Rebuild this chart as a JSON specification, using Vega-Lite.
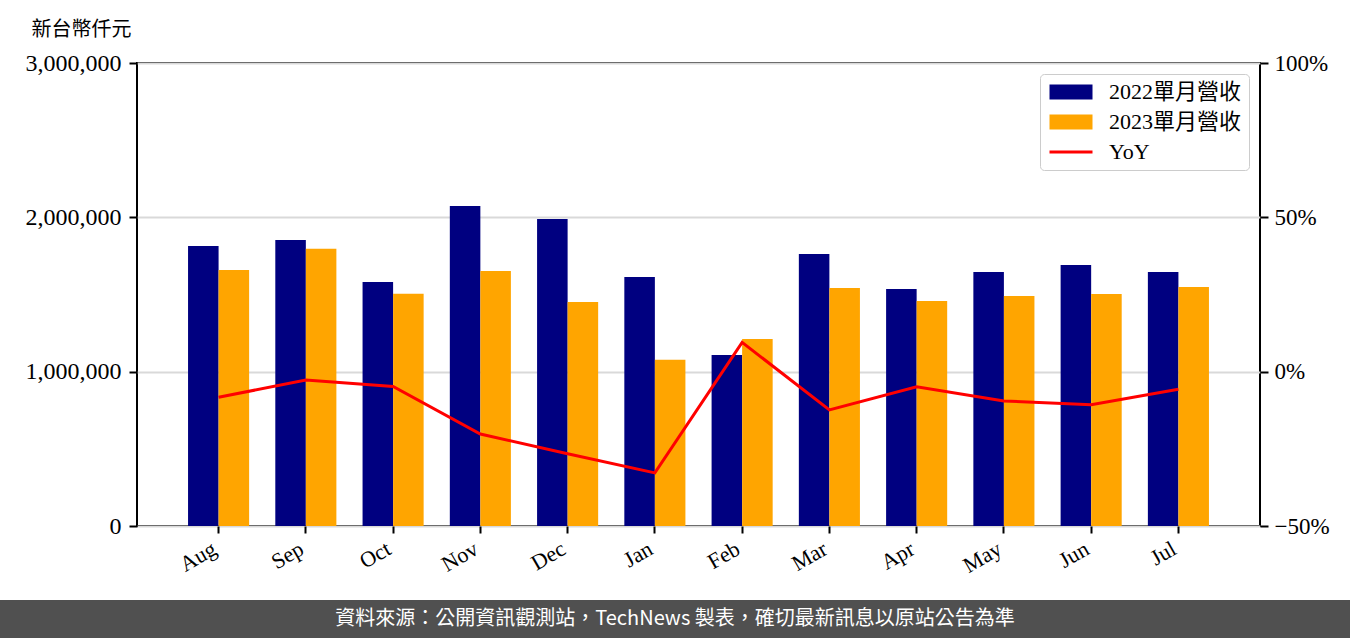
{
  "$schema": "https://vega.github.io/schema/vega-lite/v6.json",
  "background": "white",
  "padding": {"left": 0, "top": 18, "right": 0, "bottom": 0},
  "spacing": 22,
  "resolve": {"scale": {"color": "independent"}, "legend": {"color": "independent"}},
  "config": {
    "view": {"stroke": null},
    "font": "Liberation Serif"
  },
  "datasets": {
    "revenue": [
      {"month": "Aug", "series": "2022單月營收", "revenue": 1814000},
      {"month": "Aug", "series": "2023單月營收", "revenue": 1659000},
      {"month": "Sep", "series": "2022單月營收", "revenue": 1853000},
      {"month": "Sep", "series": "2023單月營收", "revenue": 1797000},
      {"month": "Oct", "series": "2022單月營收", "revenue": 1581000},
      {"month": "Oct", "series": "2023單月營收", "revenue": 1505000},
      {"month": "Nov", "series": "2022單月營收", "revenue": 2073000},
      {"month": "Nov", "series": "2023單月營收", "revenue": 1652000},
      {"month": "Dec", "series": "2022單月營收", "revenue": 1989000},
      {"month": "Dec", "series": "2023單月營收", "revenue": 1451000},
      {"month": "Jan", "series": "2022單月營收", "revenue": 1613000},
      {"month": "Jan", "series": "2023單月營收", "revenue": 1078000},
      {"month": "Feb", "series": "2022單月營收", "revenue": 1108000},
      {"month": "Feb", "series": "2023單月營收", "revenue": 1212000},
      {"month": "Mar", "series": "2022單月營收", "revenue": 1762000},
      {"month": "Mar", "series": "2023單月營收", "revenue": 1542000},
      {"month": "Apr", "series": "2022單月營收", "revenue": 1536000},
      {"month": "Apr", "series": "2023單月營收", "revenue": 1458000},
      {"month": "May", "series": "2022單月營收", "revenue": 1646000},
      {"month": "May", "series": "2023單月營收", "revenue": 1490000},
      {"month": "Jun", "series": "2022單月營收", "revenue": 1691000},
      {"month": "Jun", "series": "2023單月營收", "revenue": 1503000},
      {"month": "Jul", "series": "2022單月營收", "revenue": 1646000},
      {"month": "Jul", "series": "2023單月營收", "revenue": 1549000}
    ],
    "yoy": [
      {"month": "Aug", "yoy": -0.083},
      {"month": "Sep", "yoy": -0.027},
      {"month": "Oct", "yoy": -0.048},
      {"month": "Nov", "yoy": -0.202},
      {"month": "Dec", "yoy": -0.266},
      {"month": "Jan", "yoy": -0.328},
      {"month": "Feb", "yoy": 0.095},
      {"month": "Mar", "yoy": -0.124},
      {"month": "Apr", "yoy": -0.049},
      {"month": "May", "yoy": -0.095},
      {"month": "Jun", "yoy": -0.107},
      {"month": "Jul", "yoy": -0.057}
    ],
    "note": [
      {"text": "資料來源：公開資訊觀測站，TechNews 製表，確切最新訊息以原站公告為準"}
    ]
  },
  "vconcat": [
    {
      "spacing": 0,
      "resolve": {"scale": {"color": "independent"}, "legend": {"color": "independent"}},
      "hconcat": [
        {
          "width": 24,
          "height": 463,
          "data": {"values": [{}]},
          "mark": {"type": "text"},
          "encoding": {"text": {"value": ""}}
        },
        {
          "width": 1123,
          "height": 463,
          "view": {"stroke": "black", "strokeWidth": 2},
          "layer": [
            {
              "data": {"name": "revenue"},
              "mark": {"type": "bar"},
              "encoding": {
                "x": {
                  "field": "month",
                  "type": "nominal",
                  "sort": ["Aug", "Sep", "Oct", "Nov", "Dec", "Jan", "Feb", "Mar", "Apr", "May", "Jun", "Jul"],
                  "scale": {"paddingInner": 0.3, "paddingOuter": 0.585},
                  "axis": {
                    "title": null,
                    "labelAngle": -30,
                    "labelAlign": "right",
                    "labelBaseline": "top",
                    "labelFont": "Liberation Serif",
                    "labelFontSize": 22,
                    "labelColor": "black",
                    "labelPadding": 5,
                    "labelOffset": -9,
                    "tickSize": 7,
                    "tickWidth": 2,
                    "tickColor": "black",
                    "domain": false,
                    "grid": false
                  }
                },
                "xOffset": {
                  "field": "series",
                  "type": "nominal",
                  "sort": ["2022單月營收", "2023單月營收"],
                  "scale": {"paddingInner": 0, "paddingOuter": 0}
                },
                "y": {
                  "field": "revenue",
                  "type": "quantitative",
                  "scale": {"domain": [0, 3000000], "nice": false},
                  "axis": {
                    "values": [0, 1000000, 2000000, 3000000],
                    "format": ",d",
                    "labelFont": "Liberation Serif",
                    "labelFontSize": 24,
                    "labelColor": "black",
                    "labelPadding": 8,
                    "tickSize": 8,
                    "tickWidth": 2,
                    "tickColor": "black",
                    "domain": false,
                    "grid": true,
                    "gridColor": "#d9d9d9",
                    "gridWidth": 2,
                    "title": "新台幣仟元",
                    "titleAngle": 0,
                    "titleAlign": "left",
                    "titleBaseline": "top",
                    "titleX": -106,
                    "titleY": -44,
                    "titleFont": "Noto Sans CJK TC",
                    "titleFontSize": 20,
                    "titleFontWeight": "normal",
                    "titleColor": "black"
                  }
                },
                "color": {
                  "field": "series",
                  "type": "nominal",
                  "scale": {
                    "domain": ["2022單月營收", "2023單月營收", "YoY"],
                    "range": ["#000080", "#ffa500", "#ff0000"]
                  },
                  "legend": {
                    "title": null,
                    "orient": "top-right",
                    "offset": 11,
                    "padding": 7,
                    "fillColor": "rgba(255,255,255,0.8)",
                    "strokeColor": "#cccccc",
                    "cornerRadius": 4,
                    "labelFont": "Liberation Serif, Noto Sans CJK TC",
                    "labelFontSize": 22,
                    "labelColor": "black",
                    "symbolSize": 225,
                    "symbolOffset": 13,
                    "labelOffset": 27,
                    "rowPadding": 8,
                    "encode": {
                      "symbols": {
                        "update": {
                          "shape": {"signal": "datum.value === 'YoY' ? 'stroke' : 'M-1,-0.35H1V0.35H-1Z'"},
                          "size": {"value": 1849},
                          "fill": {"signal": "datum.value === '2022單月營收' ? '#000080' : datum.value === '2023單月營收' ? '#ffa500' : 'transparent'"},
                          "stroke": {"signal": "datum.value === 'YoY' ? '#ff0000' : 'transparent'"},
                          "strokeWidth": {"signal": "datum.value === 'YoY' ? 3 : 0"},
                          "opacity": {"value": 1}
                        }
                      }
                    }
                  }
                }
              }
            },
            {
              "data": {"name": "yoy"},
              "mark": {"type": "line", "strokeWidth": 3},
              "encoding": {
                "x": {
                  "field": "month",
                  "type": "nominal",
                  "sort": ["Aug", "Sep", "Oct", "Nov", "Dec", "Jan", "Feb", "Mar", "Apr", "May", "Jun", "Jul"]
                },
                "y": {
                  "field": "yoy",
                  "type": "quantitative",
                  "scale": {"domain": [-0.5, 1], "nice": false},
                  "axis": {
                    "orient": "right",
                    "values": [-0.5, 0, 0.5, 1],
                    "format": ".0%",
                    "labelFont": "Liberation Serif",
                    "labelFontSize": 23,
                    "labelColor": "black",
                    "labelPadding": 6,
                    "tickSize": 8,
                    "tickWidth": 2,
                    "tickColor": "black",
                    "domain": false,
                    "grid": false,
                    "title": null
                  }
                },
                "color": {"datum": "YoY"},
                "order": {"value": null}
              }
            }
          ],
          "resolve": {"scale": {"y": "independent"}}
        }
      ]
    },
    {
      "width": 1350,
      "height": 38,
      "view": {"fill": "#505050", "stroke": null},
      "data": {"name": "note"},
      "mark": {"type": "text", "color": "white", "font": "Noto Sans CJK TC", "fontSize": 20, "baseline": "middle", "align": "center"},
      "encoding": {"text": {"field": "text"}}
    }
  ]
}
